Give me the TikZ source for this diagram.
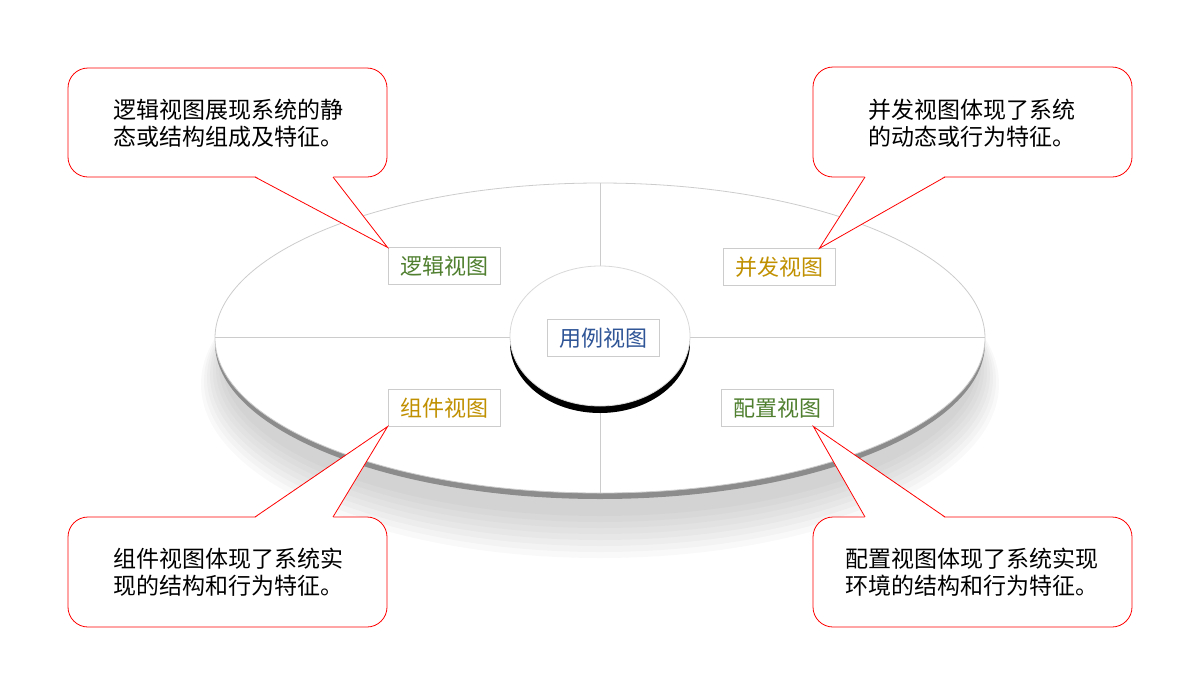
\documentclass[tikz,border=0pt]{standalone}
\usepackage{fontspec}
\newfontfamily\cjk{Noto Sans CJK SC}
\definecolor{viewgreen}{HTML}{4F7F2F}
\definecolor{viewgold}{HTML}{C09000}
\definecolor{viewblue}{HTML}{2F5597}
\tikzset{
  viewbox/.style={draw=black!20, fill=white, inner xsep=6pt, inner ysep=4pt, font=\cjk\fontsize{11}{13}\selectfont},
  calloutbox/.style={draw=red, fill=white, rounded corners=10pt, thin},
  callouttext/.style={font=\cjk\fontsize{11.5}{13.5}\selectfont, align=center}
}
\begin{document}
\begin{tikzpicture}[x=0.5pt,y=-0.5pt]
  \useasboundingbox (0,0) rectangle (1200,675);
  % disc and shadow
  \foreach \i in {1,...,8}
    \fill[black, opacity=0.025] (600,{360+3*\i}) ellipse ({375+3*\i} and {150+3*\i});
  \fill[black!45] (600,343) ellipse (385 and 156);
  \fill[white] (600,338) ellipse (385 and 155);
  \draw[black!20] (600,338) ellipse (385 and 155);
  \draw[black!20] (600,183) -- (600,266);
  \draw[black!20] (600,410) -- (600,493);
  \draw[black!20] (215,337) -- (510,337);
  \draw[black!20] (690,337) -- (985,337);
  % centre
  \fill[black] (600,343) ellipse (90 and 70);
  \fill[white] (600,336) ellipse (90 and 70);
  \draw[black!15] (600,336) ellipse (90 and 70);
  % view labels
  \node[viewbox, text=viewblue] (usecase) at (603,338) {用例视图};
  \node[viewbox, text=viewgreen] (logic) at (444,266) {逻辑视图};
  \node[viewbox, text=viewgold] (proc) at (779,267) {并发视图};
  \node[viewbox, text=viewgold] (comp) at (444,408) {组件视图};
  \node[viewbox, text=viewgreen] (deploy) at (777,408) {配置视图};
  \coordinate (proctip) at ([xshift=-8]proc.north east);
  \coordinate (deploytip) at ([xshift=-10]deploy.south east);
  % callouts
  \draw[calloutbox] (68,68) rectangle (387,177);
  \fill[white] (255,176) -- (logic.north west) -- (333,176) -- cycle;
  \draw[red] (255,177) -- (logic.north west) -- (333,177);
  \node[callouttext] (logictext) at (228,123) {逻辑视图展现系统的静\\态或结构组成及特征。};
  \draw[calloutbox] (813,67) rectangle (1132,177);
  \fill[white] (865,176) -- (proctip) -- (945,176) -- cycle;
  \draw[red] (865,177) -- (proctip) -- (945,177);
  \node[callouttext] (proctext) at (972,123) {并发视图体现了系统\\的动态或行为特征。};
  \draw[calloutbox] (68,517) rectangle (387,627);
  \fill[white] (255,518) -- (comp.south west) -- (333,518) -- cycle;
  \draw[red] (255,517) -- (comp.south west) -- (333,517);
  \node[callouttext] (comptext) at (228,572) {组件视图体现了系统实\\现的结构和行为特征。};
  \draw[calloutbox] (813,517) rectangle (1132,627);
  \fill[white] (865,518) -- (deploytip) -- (945,518) -- cycle;
  \draw[red] (865,517) -- (deploytip) -- (945,517);
  \node[callouttext] (deploytext) at (972,572) {配置视图体现了系统实现\\环境的结构和行为特征。};
\end{tikzpicture}
\end{document}
